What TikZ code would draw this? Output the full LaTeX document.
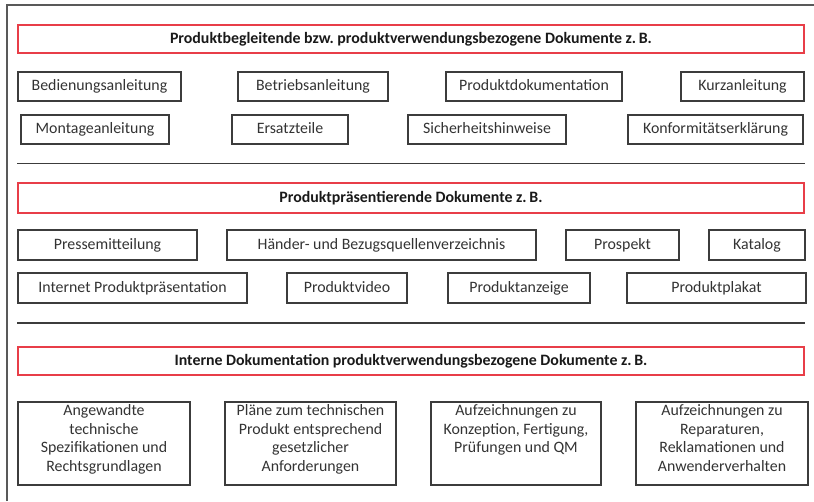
\documentclass[tikz,border=0pt]{standalone}
\usepackage{fontspec}
\setmainfont{Carlito}
\usepackage{tikz}
\frenchspacing

\definecolor{rahmen}{RGB}{60,60,60}
\definecolor{rot}{RGB}{232,62,72}
\newcommand{\langtext}[1]{\parbox[c][58pt][t]{125pt}{\centering #1}}

\begin{document}
\begin{tikzpicture}[x=0.75pt,y=-0.75pt,
                    font=\fontsize{11.9pt}{13.9pt}\selectfont,
                    box/.style={rectangle,draw=rahmen,line width=1.2pt,inner sep=0pt,text=black!80},
                    doc node/.style={box,minimum height=21.75pt,text height=8.6pt,text depth=2.6pt},
                    long node/.style={box,minimum height=62.25pt},
                    head node/.style={rectangle,draw=rot,line width=1.1pt,inner sep=0pt,
                                      text height=8.6pt,text depth=2.6pt,text=black!90,
                                      minimum width=589.5pt,minimum height=21pt,
                                      font=\fontsize{11.9pt}{13.9pt}\selectfont\bfseries},
                    sep line/.style={draw=rahmen,line width=1.2pt}]

  \useasboundingbox (0,0) rectangle (814,501);
  % Rahmen (oben und links)
  \draw[draw=black!65,line width=1.1pt] (7,501) -- (7,5) -- (814,5);

  % Produktbegleitende Dokumente
  \node[head node] (h1) at (411,39) {Produktbegleitende bzw. produktverwendungsbezogene Dokumente z.\,B.};
  \node[doc node,minimum width=122.25pt] (bed) at (99.5,86.5) {Bedienungsanleitung};
  \node[doc node,minimum width=112.5pt] (betr) at (313,86.5) {Betriebsanleitung};
  \node[doc node,minimum width=132pt] (pdok) at (534,86.5) {Produktdokumentation};
  \node[doc node,minimum width=92.25pt] (kurz) at (742.5,86.5) {Kurzanleitung};
  \node[doc node,minimum width=111pt] (mont) at (95,129.5) {Montageanleitung};
  \node[doc node,minimum width=87pt] (ers) at (290,129.5) {Ersatzteile};
  \node[doc node,minimum width=118.5pt] (sich) at (487,129.5) {Sicherheitshinweise};
  \node[doc node,minimum width=131.25pt] (konf) at (715.5,129.5) {Konformitätserklärung};
  \draw[sep line] (h1.west |- 0,163.5) -- (h1.east |- 0,163.5);

  % Produktpraesentierende Dokumente
  \node[head node,minimum height=22.5pt] (h2) at (411,198) {Produktpräsentierende Dokumente z.\,B.};
  \node[doc node,minimum width=134.25pt,minimum height=22.5pt] (press) at (107.5,245) {Pressemitteilung};
  \node[doc node,minimum width=231.75pt,minimum height=22.5pt] (haend) at (381.5,245) {Händer- und Bezugsquellenverzeichnis};
  \node[doc node,minimum width=84.75pt,minimum height=22.5pt] (prosp) at (622.5,245) {Prospekt};
  \node[doc node,minimum width=72pt,minimum height=22.5pt] (kat) at (757,245) {Katalog};
  \node[doc node,minimum width=171.75pt,minimum height=22.5pt] (inet) at (132.5,288) {Internet Produktpräsentation};
  \node[doc node,minimum width=90pt,minimum height=22.5pt] (video) at (347,288) {Produktvideo};
  \node[doc node,minimum width=106.5pt,minimum height=22.5pt] (anz) at (519,288) {Produktanzeige};
  \node[doc node,minimum width=134.25pt,minimum height=22.5pt] (plak) at (716.5,288) {Produktplakat};
  \draw[sep line] (h2.west |- 0,323) -- (h2.east |- 0,323);

  % Interne Dokumentation
  \node[head node] (h3) at (411,361) {Interne Dokumentation produktverwendungsbezogene Dokumente z.\,B.};
  \node[long node,minimum width=129pt] (spez) at (104,443.5)
    {\langtext{Angewandte\\technische\\Spezifikationen und\\Rechtsgrundlagen}};
  \node[long node,minimum width=128.25pt] (plaene) at (310.5,443.5)
    {\langtext{Pläne zum technischen\\Produkt entsprechend\\gesetzlicher\\Anforderungen}};
  \node[long node,minimum width=127.5pt] (konz) at (516,443.5)
    {\langtext{Aufzeichnungen zu\\Konzeption, Fertigung,\\Prüfungen und QM}};
  \node[long node,minimum width=129pt] (rep) at (722,443.5)
    {\langtext{Aufzeichnungen zu\\Reparaturen,\\Reklamationen und\\Anwenderverhalten}};
\end{tikzpicture}
\end{document}
